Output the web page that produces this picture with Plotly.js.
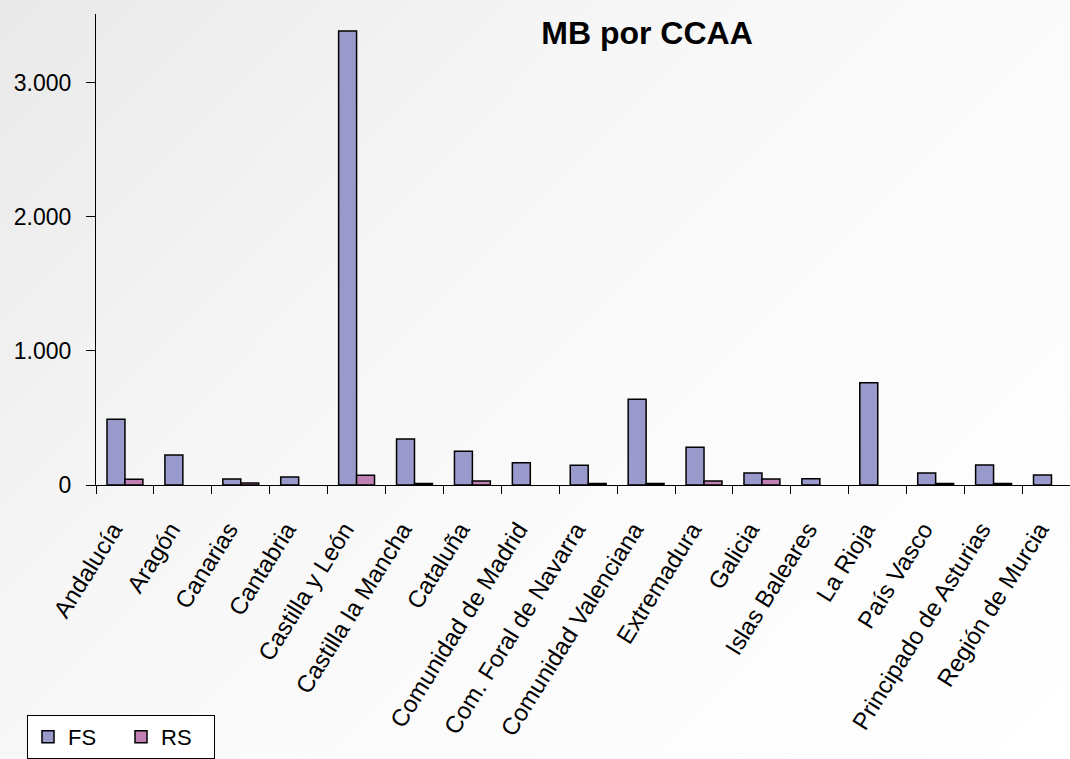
<!DOCTYPE html>
<html>
<head>
<meta charset="utf-8">
<script src="https://cdn.plot.ly/plotly-3.0.1.min.js"></script>
<style>
html,body{margin:0;padding:0;}
body{width:1070px;height:759px;overflow:hidden;background:linear-gradient(135deg,#e9e9e9 0%,#f6f6f6 35%,#fbfbfb 60%,#ffffff 100%);}
#chart{width:1070px;height:759px;}
</style>
</head>
<body>
<div id="chart"></div>
<script>
var categories = ["Andalucía","Aragón","Canarias","Cantabria","Castilla y León","Castilla la Mancha","Cataluña","Comunidad de Madrid","Com. Foral de Navarra","Comunidad Valenciana","Extremadura","Galicia","Islas Baleares","La Rioja","País Vasco","Principado de Asturias","Región de Murcia"];
var fsValues = [491, 223, 45, 60, 3388, 343, 251, 166, 147, 640, 281, 89, 47, 762, 89, 149, 74];
var rsValues = [42, null, 15, null, 72, 12, 30, null, 12, 12, 30, 45, null, null, 12, 12, null];
var yTicks = [0, 1000, 2000, 3000];

var traces = [
  {type:'bar', name:'FS', x:categories, y:fsValues,
   marker:{color:'#9999CC', line:{color:'#000000', width:1.5}}},
  {type:'bar', name:'RS', x:categories, y:rsValues,
   marker:{color:'#C080B4', line:{color:'#000000', width:1.5}}}
];

var layout = {
  width:1070, height:759,
  paper_bgcolor:'rgba(0,0,0,0)', plot_bgcolor:'rgba(0,0,0,0)',
  separators:',.',
  font:{family:'Liberation Sans, Arial, sans-serif', color:'#000000', size:20},
  margin:{l:96, r:0, t:14, b:273},
  barmode:'group', bargap:0.38, bargroupgap:0,
  title:{text:'<b>MB por CCAA</b>', font:{size:32, family:'Liberation Sans, Arial, sans-serif', color:'#000'},
         x:647/1070, xanchor:'center', xref:'container', y:1-33/759, yanchor:'middle', yref:'container'},
  xaxis:{type:'category', range:[-0.5, 16.32], showline:true, linecolor:'#000', linewidth:1,
         ticks:'outside', ticklen:8, tickcolor:'#000', tickson:'boundaries',
         tickangle:-58, tickfont:{size:24}, ticklabelshift:-12, ticklabelstandoff:20,
         showgrid:false, zeroline:false, fixedrange:true},
  yaxis:{range:[0, 3514], showline:true, linecolor:'#000', linewidth:1,
         ticks:'outside', ticklen:9, tickcolor:'#000', tickvals:yTicks,
         separatethousands:true, tickformat:',d', tickfont:{size:23},
         ticklabelstandoff:10, showgrid:false, zeroline:false, fixedrange:true},
  showlegend:true,
  legend:{orientation:'h', x:(27-96)/974, xanchor:'left', xref:'paper',
          y:-(716-486)/472, yanchor:'top', bgcolor:'#ffffff', bordercolor:'#000', borderwidth:1,
          font:{size:22}, entrywidth:48, entrywidthmode:'pixels', traceorder:'normal'}
};

Plotly.newPlot('chart', traces, layout, {displayModeBar:false, staticPlot:true});
</script>
</body>
</html>
